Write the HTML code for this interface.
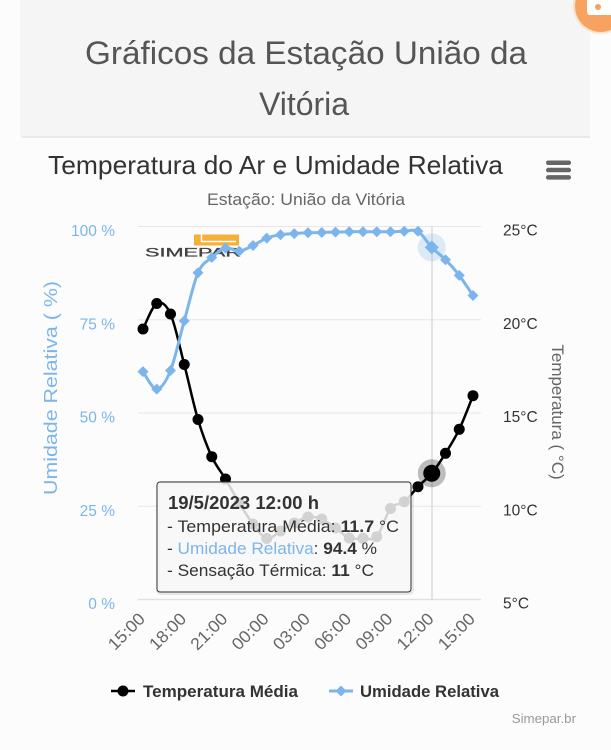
<!DOCTYPE html>
<html>
<head>
<meta charset="utf-8">
<style>
  html,body{margin:0;padding:0;background:#fcfcfc;}
  svg{display:block;font-family:"Liberation Sans",sans-serif;}
</style>
</head>
<body>
<svg width="611" height="750" viewBox="0 0 611 750" xmlns="http://www.w3.org/2000/svg">
  <!-- backgrounds -->
  <rect x="0" y="0" width="611" height="750" fill="#fcfcfc"/>
  <rect x="20" y="0" width="570" height="137" fill="#f5f5f5"/>
  <line x1="22" y1="137" x2="590" y2="137" stroke="#e4e4e4" stroke-width="1.5"/>

  <!-- orange corner button -->
  <circle cx="601" cy="6" r="28" fill="#fbd3b0" opacity="0.6"/>
  <circle cx="601" cy="6" r="26" fill="#f7a25e"/>
  <rect x="587" y="-6" width="30" height="21" rx="3" fill="#ffffff"/>
  <circle cx="598" cy="7" r="3" fill="#f7a25e"/>

  <!-- page title -->
  <text x="306" y="64" font-size="32" fill="#555" text-anchor="middle" textLength="442" lengthAdjust="spacingAndGlyphs">Gráficos da Estação União da</text>
  <text x="304" y="115" font-size="32" fill="#555" text-anchor="middle">Vitória</text>

  <!-- chart title -->
  <text x="275.5" y="174" font-size="26" fill="#333" text-anchor="middle" textLength="455" lengthAdjust="spacingAndGlyphs">Temperatura do Ar e Umidade Relativa</text>
  <text x="306" y="205" font-size="17" fill="#666" text-anchor="middle" textLength="198" lengthAdjust="spacingAndGlyphs">Estação: União da Vitória</text>

  <!-- hamburger -->
  <rect x="546" y="160.5" width="25" height="4.5" rx="2.2" fill="#666"/>
  <rect x="546" y="167.8" width="25" height="4.5" rx="2.2" fill="#666"/>
  <rect x="546" y="175.1" width="25" height="4.5" rx="2.2" fill="#666"/>

  <!-- gridlines -->
  <g stroke="#e6e6e6" stroke-width="1">
    <line x1="138" y1="226.5" x2="481" y2="226.5"/>
    <line x1="138" y1="319.75" x2="481" y2="319.75"/>
    <line x1="138" y1="413" x2="481" y2="413"/>
    <line x1="138" y1="506.25" x2="481" y2="506.25"/>
  </g>
  <line x1="138" y1="599.5" x2="481" y2="599.5" stroke="#dde2ea" stroke-width="1.5"/>

  <!-- left y labels -->
  <g font-size="15.5" fill="#7cb5ec" text-anchor="end">
    <text x="115" y="236">100 %</text>
    <text x="115" y="329.25">75 %</text>
    <text x="115" y="422.5">50 %</text>
    <text x="115" y="515.75">25 %</text>
    <text x="115" y="609">0 %</text>
  </g>
  <!-- right y labels -->
  <g font-size="15.5" fill="#333">
    <text x="503" y="235.5">25°C</text>
    <text x="503" y="328.75">20°C</text>
    <text x="503" y="422">15°C</text>
    <text x="503" y="515.25">10°C</text>
    <text x="503" y="608.5">5°C</text>
  </g>

  <!-- axis titles -->
  <text transform="translate(57,388) rotate(-90)" font-size="18.5" fill="#7cb5ec" text-anchor="middle" textLength="214" lengthAdjust="spacingAndGlyphs">Umidade Relativa ( %)</text>
  <text transform="translate(552,412) rotate(90)" font-size="17" fill="#666" text-anchor="middle">Temperatura ( °C)</text>

  <!-- x labels -->
  <g font-size="17" fill="#666" text-anchor="end">
    <text transform="translate(146,620) rotate(-45)" textLength="44" lengthAdjust="spacingAndGlyphs">15:00</text>
    <text transform="translate(187.25,620) rotate(-45)" textLength="44" lengthAdjust="spacingAndGlyphs">18:00</text>
    <text transform="translate(228.5,620) rotate(-45)" textLength="44" lengthAdjust="spacingAndGlyphs">21:00</text>
    <text transform="translate(269.75,620) rotate(-45)" textLength="44" lengthAdjust="spacingAndGlyphs">00:00</text>
    <text transform="translate(311,620) rotate(-45)" textLength="44" lengthAdjust="spacingAndGlyphs">03:00</text>
    <text transform="translate(352.25,620) rotate(-45)" textLength="44" lengthAdjust="spacingAndGlyphs">06:00</text>
    <text transform="translate(393.5,620) rotate(-45)" textLength="44" lengthAdjust="spacingAndGlyphs">09:00</text>
    <text transform="translate(434.75,620) rotate(-45)" textLength="44" lengthAdjust="spacingAndGlyphs">12:00</text>
    <text transform="translate(476,620) rotate(-45)" textLength="44" lengthAdjust="spacingAndGlyphs">15:00</text>
  </g>

  <!-- simepar logo -->
  <rect x="194" y="234.5" width="45" height="11" fill="#f3b13a"/>
  <path d="M201.5,234.5 V241.5 H236" fill="none" stroke="#ffffff" stroke-width="1.6"/>
  <text x="145" y="256.5" font-size="12" fill="#444" stroke="#444" stroke-width="0.3" textLength="96" lengthAdjust="spacingAndGlyphs">SIMEPAR</text>

  <!-- crosshair -->
  <line x1="432" y1="226.5" x2="432" y2="599.5" stroke="#cccccc" stroke-width="1"/>

  <!-- temperature series -->
  <polyline id="tempLine" fill="none" stroke="#000" stroke-width="2.5" stroke-linejoin="round"
    points="143,329 156.75,303.5 170.5,314 184.25,364.5 198,419.5 211.75,456.7 225.5,479 239.25,503 253,524 266.75,538.5 280.5,531 294.25,523 308,517 321.75,519 335.5,528 349.25,538 363,538.3 376.75,536.7 390.5,508.5 404.25,501.7 418,486.7 431.75,473.3 445.5,453.3 459.25,429.3 473,395.7"/>
  <g fill="#000">
    <circle cx="143" cy="329" r="5.5"/>
    <circle cx="156.75" cy="303.5" r="5.5"/>
    <circle cx="170.5" cy="314" r="5.5"/>
    <circle cx="184.25" cy="364.5" r="5.5"/>
    <circle cx="198" cy="419.5" r="5.5"/>
    <circle cx="211.75" cy="456.7" r="5.5"/>
    <circle cx="225.5" cy="479" r="5.5"/>
    <circle cx="239.25" cy="503" r="5.5"/>
    <circle cx="253" cy="524" r="5.5"/>
    <circle cx="266.75" cy="538.5" r="5.5"/>
    <circle cx="280.5" cy="531" r="5.5"/>
    <circle cx="294.25" cy="523" r="5.5"/>
    <circle cx="308" cy="517" r="5.5"/>
    <circle cx="321.75" cy="519" r="5.5"/>
    <circle cx="335.5" cy="528" r="5.5"/>
    <circle cx="349.25" cy="538" r="5.5"/>
    <circle cx="363" cy="538.3" r="5.5"/>
    <circle cx="376.75" cy="536.7" r="5.5"/>
    <circle cx="390.5" cy="508.5" r="5.5"/>
    <circle cx="404.25" cy="501.7" r="5.5"/>
    <circle cx="418" cy="486.7" r="5.5"/>
    <circle cx="445.5" cy="453.3" r="5.5"/>
    <circle cx="459.25" cy="429.3" r="5.5"/>
    <circle cx="473" cy="395.7" r="5.5"/>
  </g>
  <!-- temp hover -->
  <circle cx="431.75" cy="473.3" r="14" fill="#000" opacity="0.25"/>
  <circle cx="431.75" cy="473.3" r="8.5" fill="#000"/>

  <!-- humidity series -->
  <polyline id="humLine" fill="none" stroke="#7cb5ec" stroke-width="3" stroke-linejoin="round"
    points="143,371.6 156.75,389.1 170.5,370.5 184.25,320.9 198,272.8 211.75,257.5 225.5,248.1 239.25,251.1 253,245.5 266.75,238.1 280.5,234.7 294.25,233.6 308,232.8 321.75,232.5 335.5,232.1 349.25,231.7 363,231.7 376.75,231.7 390.5,231.7 404.25,231.3 418,231.3 431.75,247.4 445.5,259.7 459.25,275.4 473,295.5"/>
  <g fill="#7cb5ec">
    <path d="M143,366.1 L148.5,371.6 L143,377.1 L137.5,371.6Z"/>
    <path d="M156.75,383.6 L162.25,389.1 L156.75,394.6 L151.25,389.1Z"/>
    <path d="M170.5,365 L176,370.5 L170.5,376 L165,370.5Z"/>
    <path d="M184.25,315.4 L189.75,320.9 L184.25,326.4 L178.75,320.9Z"/>
    <path d="M198,267.3 L203.5,272.8 L198,278.3 L192.5,272.8Z"/>
    <path d="M211.75,252 L217.25,257.5 L211.75,263 L206.25,257.5Z"/>
    <path d="M225.5,242.6 L231,248.1 L225.5,253.6 L220,248.1Z"/>
    <path d="M239.25,245.6 L244.75,251.1 L239.25,256.6 L233.75,251.1Z"/>
    <path d="M253,240 L258.5,245.5 L253,251 L247.5,245.5Z"/>
    <path d="M266.75,232.6 L272.25,238.1 L266.75,243.6 L261.25,238.1Z"/>
    <path d="M280.5,229.2 L286,234.7 L280.5,240.2 L275,234.7Z"/>
    <path d="M294.25,228.1 L299.75,233.6 L294.25,239.1 L288.75,233.6Z"/>
    <path d="M308,227.3 L313.5,232.8 L308,238.3 L302.5,232.8Z"/>
    <path d="M321.75,227 L327.25,232.5 L321.75,238 L316.25,232.5Z"/>
    <path d="M335.5,226.6 L341,232.1 L335.5,237.6 L330,232.1Z"/>
    <path d="M349.25,226.2 L354.75,231.7 L349.25,237.2 L343.75,231.7Z"/>
    <path d="M363,226.2 L368.5,231.7 L363,237.2 L357.5,231.7Z"/>
    <path d="M376.75,226.2 L382.25,231.7 L376.75,237.2 L371.25,231.7Z"/>
    <path d="M390.5,226.2 L396,231.7 L390.5,237.2 L385,231.7Z"/>
    <path d="M404.25,225.8 L409.75,231.3 L404.25,236.8 L398.75,231.3Z"/>
    <path d="M418,225.8 L423.5,231.3 L418,236.8 L412.5,231.3Z"/>
    <path d="M445.5,254.2 L451,259.7 L445.5,265.2 L440,259.7Z"/>
    <path d="M459.25,269.9 L464.75,275.4 L459.25,280.9 L453.75,275.4Z"/>
    <path d="M473,290 L478.5,295.5 L473,301 L467.5,295.5Z"/>
  </g>
  <!-- humidity hover -->
  <circle cx="431.75" cy="247.4" r="14" fill="#7cb5ec" opacity="0.25"/>
  <path d="M431.75,240.4 L438.75,247.4 L431.75,254.4 L424.75,247.4Z" fill="#7cb5ec"/>

  <!-- tooltip -->
  <rect x="158" y="483" width="254" height="110" rx="3" fill="none" stroke="#000" stroke-opacity="0.08" stroke-width="4"/>
  <rect x="157" y="482" width="254" height="110" rx="3" fill="#f7f7f7" fill-opacity="0.85" stroke="#333" stroke-width="1"/>
  <text x="168" y="509" font-size="18" font-weight="bold" fill="#333" textLength="151" lengthAdjust="spacingAndGlyphs">19/5/2023 12:00 h</text>
  <text x="167" y="532" font-size="17" fill="#333" textLength="232" lengthAdjust="spacingAndGlyphs">- Temperatura Média: <tspan font-weight="bold">11.7</tspan> °C</text>
  <text x="167" y="554" font-size="17" fill="#333" textLength="210" lengthAdjust="spacingAndGlyphs">- <tspan fill="#7cb5ec">Umidade Relativa</tspan>: <tspan font-weight="bold">94.4</tspan> %</text>
  <text x="167" y="576" font-size="17" fill="#333" textLength="207" lengthAdjust="spacingAndGlyphs">- Sensação Térmica: <tspan font-weight="bold">11</tspan> °C</text>

  <!-- legend -->
  <line x1="111" y1="691" x2="135" y2="691" stroke="#000" stroke-width="2.5"/>
  <circle cx="123" cy="691" r="5.5" fill="#000"/>
  <text x="143" y="697" font-size="17" font-weight="bold" fill="#333" textLength="155" lengthAdjust="spacingAndGlyphs">Temperatura Média</text>
  <line x1="329" y1="691" x2="353" y2="691" stroke="#7cb5ec" stroke-width="3"/>
  <path d="M341,685.5 L346.5,691 L341,696.5 L335.5,691Z" fill="#7cb5ec"/>
  <text x="360" y="697" font-size="17" font-weight="bold" fill="#333" textLength="139" lengthAdjust="spacingAndGlyphs">Umidade Relativa</text>

  <!-- credits -->
  <text x="576" y="723" font-size="13.3" fill="#999" text-anchor="end">Simepar.br</text>
</svg>
<script>
(function(){
  function smooth(id){
    var el=document.getElementById(id);
    if(!el) return;
    var pts=el.getAttribute('points').trim().split(/\s+/).map(function(p){var a=p.split(',');return [parseFloat(a[0]),parseFloat(a[1])];});
    var d='M'+pts[0][0]+','+pts[0][1];
    for(var i=0;i<pts.length-1;i++){
      var p0=pts[i-1]||pts[i], p1=pts[i], p2=pts[i+1], p3=pts[i+2]||pts[i+1];
      var c1x=p1[0]+(p2[0]-p0[0])/6, c1y=p1[1]+(p2[1]-p0[1])/6;
      var c2x=p2[0]-(p3[0]-p1[0])/6, c2y=p2[1]-(p3[1]-p1[1])/6;
      d+=' C'+c1x.toFixed(2)+','+c1y.toFixed(2)+' '+c2x.toFixed(2)+','+c2y.toFixed(2)+' '+p2[0]+','+p2[1];
    }
    var path=document.createElementNS('http://www.w3.org/2000/svg','path');
    ['fill','stroke','stroke-width','stroke-linejoin'].forEach(function(a){path.setAttribute(a,el.getAttribute(a));});
    path.setAttribute('d',d);
    el.parentNode.replaceChild(path,el);
  }
  smooth('tempLine');smooth('humLine');
})();
</script>
</body>
</html>
